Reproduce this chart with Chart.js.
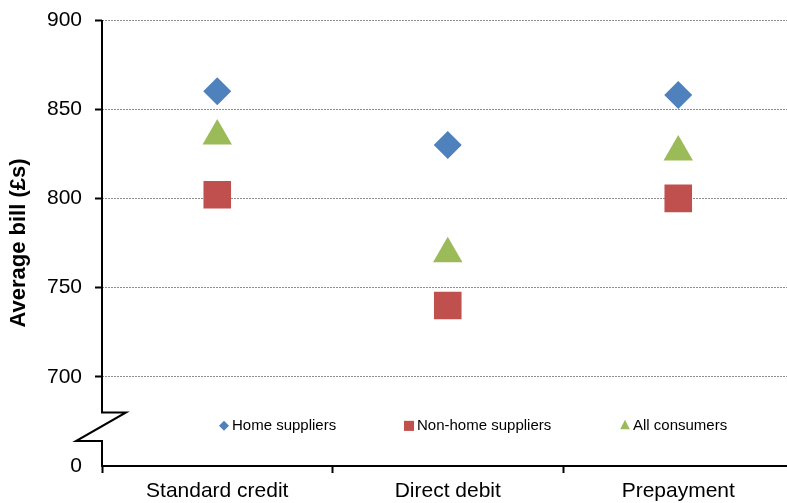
<!DOCTYPE html>
<html>
<head>
<meta charset="utf-8">
<script src="https://cdn.jsdelivr.net/npm/chart.js@4/dist/chart.umd.min.js"></script>
<style>
  html, body { margin: 0; padding: 0; background: #fff; overflow: hidden; }
  /* plot runs a little past the right edge of the window, as in the source image */
  #wrap { width: 813px; height: 503px; position: relative; }
</style>
</head>
<body>
<div id="wrap"><canvas id="billChart"></canvas></div>
<script>
// data
const categories = ['Standard credit', 'Direct debit', 'Prepayment'];
const homeSuppliers = [860, 830, 858];
const nonHomeSuppliers = [802, 740, 800];
const allConsumers = [835, 769, 826];
// the axis is broken: the bottom step (650) is shown as 0
const yMin = 650;
const yMax = 900;
const yStep = 50;

const FONT = 'Liberation Sans, Arial, sans-serif';

// legend drawn inside the plot, just above the axis
const legendX = [224, 409, 625];
const legendRadius = [5, 7, 6];

function drawMarker(ctx, style, x, y, r) {
    ctx.beginPath();
    if (style === 'rectRot') {
        ctx.moveTo(x, y - r);
        ctx.lineTo(x + r, y);
        ctx.lineTo(x, y + r);
        ctx.lineTo(x - r, y);
    } else if (style === 'rect') {
        const s = r * 0.72;
        ctx.rect(x - s, y - s, 2 * s, 2 * s);
    } else {
        ctx.moveTo(x, y - r);
        ctx.lineTo(x + r * 0.8, y + r * 0.55);
        ctx.lineTo(x - r * 0.8, y + r * 0.55);
    }
    ctx.closePath();
    ctx.fill();
}

const breakLegendPlugin = {
    id: 'breakLegend',
    afterDraw(chart) {
        const ctx = chart.ctx;
        const area = chart.chartArea;
        const y = chart.scales.y;
        const x0 = area.left;
        const b1 = y.getPixelForValue(680);
        const b2 = y.getPixelForValue(664);

        // y axis line with break mark
        ctx.save();
        ctx.strokeStyle = '#000';
        ctx.lineWidth = 2;
        ctx.beginPath();
        ctx.moveTo(x0, area.top);
        ctx.lineTo(x0, b1);
        ctx.lineTo(x0 + 24, b1);
        ctx.lineTo(x0 - 26, b2);
        ctx.lineTo(x0, b2);
        ctx.lineTo(x0, area.bottom);
        ctx.stroke();
        ctx.restore();

        // legend
        const ly = y.getPixelForValue(672.5);
        ctx.save();
        chart.data.datasets.forEach((ds, i) => {
            const cx = legendX[i];
            ctx.fillStyle = ds.backgroundColor;
            drawMarker(ctx, ds.pointStyle, cx, ly, legendRadius[i]);
            ctx.font = '15px ' + FONT;
            ctx.textBaseline = 'middle';
            ctx.fillStyle = '#000';
            ctx.fillText(ds.label, cx + 8, ly);
        });
        ctx.restore();
    }
};

// let layout padding alone decide where the plot area sits
function noPadding(scale) {
    scale.paddingTop = 0;
    scale.paddingBottom = 0;
    scale.paddingLeft = 0;
    scale.paddingRight = 0;
}

const ctx = document.getElementById('billChart').getContext('2d');
new Chart(ctx, {
    type: 'line',
    data: {
        labels: categories,
        datasets: [
            {
                label: 'Home suppliers',
                data: homeSuppliers,
                pointStyle: 'rectRot',
                pointRadius: 14,
                backgroundColor: '#4F81BD',
                borderColor: '#4F81BD',
                pointBorderWidth: 0
            },
            {
                label: 'Non-home suppliers',
                data: nonHomeSuppliers,
                pointStyle: 'rect',
                pointRadius: 19.5,
                backgroundColor: '#C0504D',
                borderColor: '#C0504D',
                pointBorderWidth: 0
            },
            {
                label: 'All consumers',
                data: allConsumers,
                pointStyle: 'triangle',
                pointRadius: 17,
                backgroundColor: '#9BBB59',
                borderColor: '#9BBB59',
                pointBorderWidth: 0
            }
        ]
    },
    options: {
        responsive: true,
        maintainAspectRatio: false,
        animation: false,
        showLine: false,
        layout: {
            padding: { top: 20, right: 0, bottom: 0, left: 0 }
        },
        plugins: {
            legend: { display: false },
            tooltip: { enabled: false }
        },
        scales: {
            x: {
                offset: true,
                grid: {
                    offset: true,
                    drawOnChartArea: false,
                    drawTicks: true,
                    tickLength: 7,
                    tickColor: '#000',
                    tickWidth: 2
                },
                border: { display: true, color: '#000', width: 2 },
                ticks: {
                    color: '#000',
                    padding: 6,
                    font: { family: FONT, size: 21 }
                },
                afterFit(scale) {
                    scale.height = 37;
                    noPadding(scale);
                }
            },
            y: {
                min: yMin,
                max: yMax,
                border: { display: false, dash: [2, 1] },
                grid: {
                    color: (c) => c.tick && c.tick.value === yMin ? 'rgba(0,0,0,0)' : '#8c8c8c',
                    lineWidth: 1,
                    drawTicks: true,
                    tickLength: 7,
                    tickBorderDash: [],
                    tickWidth: 2,
                    tickColor: (c) => c.tick && c.tick.value === yMin ? 'rgba(0,0,0,0)' : '#000'
                },
                ticks: {
                    stepSize: yStep,
                    color: '#000',
                    padding: 13,
                    font: { family: FONT, size: 21 },
                    callback: (v) => v === yMin ? '0' : v
                },
                title: {
                    display: true,
                    text: 'Average bill (£s)',
                    color: '#000',
                    padding: { top: 6, bottom: 0 },
                    font: { family: FONT, size: 22, weight: 'bold' }
                },
                afterFit(scale) {
                    scale.width = 102;
                    noPadding(scale);
                }
            }
        }
    },
    plugins: [breakLegendPlugin]
});
</script>
</body>
</html>
